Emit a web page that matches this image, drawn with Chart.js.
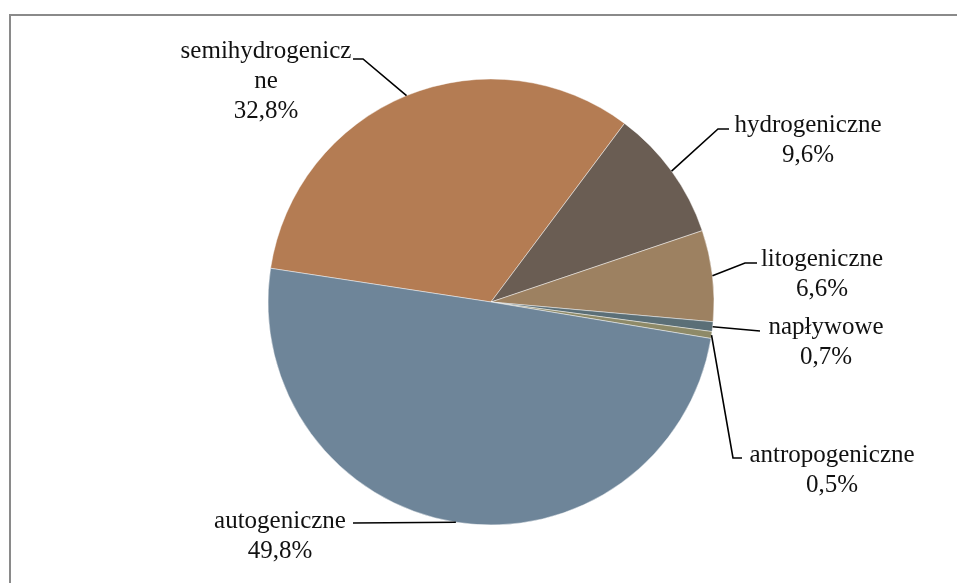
<!DOCTYPE html>
<html lang="pl">
<head>
<meta charset="utf-8">
<title>Gleby - udział typów</title>
<script src="https://cdn.jsdelivr.net/npm/chart.js@4.4.1/dist/chart.umd.min.js"></script>
<style>
  html, body { margin: 0; padding: 0; background: #fff; overflow: hidden; }
  #wrap { position: relative; width: 957px; height: 583px; }
  #frame {
    position: absolute; left: 9px; top: 14px; width: 1000px; height: 1000px;
    border-left: 2px solid #8a8a8a; border-top: 2px solid #8a8a8a;
  }
  canvas { position: absolute; left: 0; top: 0; }
</style>
</head>
<body>
<div id="wrap">
  <div id="frame"></div>
  <canvas id="soilPie" width="957" height="583"></canvas>
</div>
<script>
// udział poszczególnych typów (%)
const categories = ["semihydrogeniczne", "hydrogeniczne", "litogeniczne", "napływowe", "antropogeniczne", "autogeniczne"];
const shares = [32.8, 9.6, 6.6, 0.7, 0.5, 49.8];
const sliceColors = ["#b47c53", "#6a5d53", "#9d8161", "#5b6f77", "#8e8a68", "#6e8599"];

// where each label sits: text centre, first line y, leader knee point and wrap length
const labelLayout = [
  { tx: 266, ty: 51, knee: [363, 59], end: [353, 59], wrap: 15 },
  { tx: 808, ty: 125, knee: [718, 129], end: [729, 129] },
  { tx: 822, ty: 259, knee: [745, 263], end: [757, 263] },
  { tx: 826, ty: 327, knee: null, end: [760, 331] },
  { tx: 832, ty: 455, knee: [733, 458], end: [742, 458] },
  { tx: 280, ty: 521, knee: null, end: [353, 523] },
];

const LABEL_FONT = '25px "Liberation Serif", "Times New Roman", serif';
const LINE_GAP = 30;

function pct(v) {
  return v.toFixed(1).replace(".", ",") + "%";
}

function labelLines(name, wrap) {
  const lines = [];
  if (wrap) {
    for (let i = 0; i < name.length; i += wrap) lines.push(name.slice(i, i + wrap));
  } else {
    lines.push(name);
  }
  return lines;
}

const leaderLabels = {
  id: "leaderLabels",
  afterDatasetsDraw(chart) {
    const ctx = chart.ctx;
    const arcs = chart.getDatasetMeta(0).data;
    ctx.save();
    arcs.forEach((arc, i) => {
      const p = arc.getProps(["x", "y", "startAngle", "endAngle", "outerRadius"], true);
      const mid = (p.startAngle + p.endAngle) / 2;
      const ax = p.x + Math.cos(mid) * p.outerRadius;
      const ay = p.y + Math.sin(mid) * p.outerRadius;
      const lay = labelLayout[i];

      ctx.strokeStyle = "#000";
      ctx.lineWidth = 1.6;
      ctx.beginPath();
      ctx.moveTo(ax, ay);
      if (lay.knee) ctx.lineTo(lay.knee[0], lay.knee[1]);
      ctx.lineTo(lay.end[0], lay.end[1]);
      ctx.stroke();

      const lines = labelLines(categories[i], lay.wrap);
      lines.push(pct(shares[i]));
      ctx.font = LABEL_FONT;
      ctx.fillStyle = "#111";
      ctx.textAlign = "center";
      ctx.textBaseline = "middle";
      lines.forEach((t, k) => ctx.fillText(t, lay.tx, lay.ty + k * LINE_GAP));
    });
    ctx.restore();
  },
};

const soilChart = new Chart(document.getElementById("soilPie").getContext("2d"), {
  type: "pie",
  data: {
    labels: categories,
    datasets: [
      {
        data: shares,
        backgroundColor: sliceColors,
        borderColor: "rgba(255,255,255,0.45)",
        borderWidth: 1,
      },
    ],
  },
  options: {
    responsive: false,
    animation: false,
    rotation: 278.7,
    radius: 223,
    layout: { padding: { left: 268, right: 243, top: 79, bottom: 58 } },
    plugins: { legend: { display: false }, tooltip: { enabled: false } },
  },
  plugins: [leaderLabels],
});
</script>
</body>
</html>
